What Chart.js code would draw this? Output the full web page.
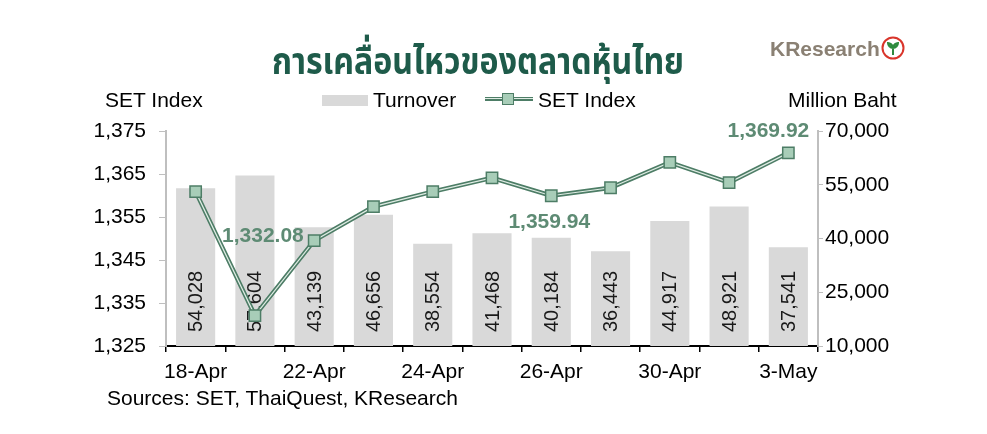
<!DOCTYPE html>
<html>
<head>
<meta charset="utf-8">
<script src="https://cdn.jsdelivr.net/npm/chart.js@4.4.1/dist/chart.umd.min.js"></script>
<style>
  body { margin: 0; background: #fff; }
  #wrap { position: relative; width: 987px; height: 434px; font-family: "Liberation Sans", Arial, sans-serif; }
  #c { position: absolute; left: 0; top: 0; }
  .t { position: absolute; white-space: nowrap; color: #000; font-size: 21px; line-height: 1; }
  #title { left: 178px; width: 600px; top: 44px; text-align: center; font-family: "Noto Sans Thai", "Noto Sans", "DejaVu Sans", sans-serif;
           font-weight: bold; font-size: 38px; color: #1e5b4a; transform: scaleX(0.845); transform-origin: 300px 0; }
  #logo { left: 770px; top: 38px; font-size: 21px; font-weight: bold; color: #8a8073; }
  #logoMark { position: absolute; left: 881px; top: 36px; }
  .swBar { position: absolute; left: 322px; top: 95px; width: 46px; height: 11px; background: #d9d9d9; }
  .swLine { position: absolute; left: 485px; top: 97px; width: 48px; height: 4px; background: #4d7d66; }
  .swLine2 { position: absolute; left: 485px; top: 98px; width: 48px; height: 1px; background: #dfece4; }
  .swMark { position: absolute; left: 502px; top: 93px; width: 10px; height: 10px; background: #a8cdb8; border: 1.5px solid #4d7d66; }
</style>
</head>
<body>
<div id="wrap">
  <canvas id="c" width="987" height="434"></canvas>
  <div class="t" id="title">การเคลื่อนไหวของตลาดหุ้นไทย</div>
  <div class="t" id="logo">KResearch</div>
  <svg id="logoMark" width="24" height="24" viewBox="0 0 24 24">
    <circle cx="12" cy="12" r="10.5" fill="#fff" stroke="#d9352b" stroke-width="2"/>
    <path d="M12 19 L12 12 M12 12 C9 12 7 9 7 7 C9 7 12 9 12 12 M12 12 C15 12 17 9 17 7 C15 7 12 9 12 12" stroke="#2f8a3e" stroke-width="2" fill="#3f9a4a"/>
  </svg>
  <div class="t" style="left:105px; top:89px;">SET Index</div>
  <div class="t" style="left:788px; top:89px;">Million Baht</div>
  <div class="swBar"></div>
  <div class="t" style="left:373px; top:89px;">Turnover</div>
  <div class="swLine"></div>
  <div class="swLine2"></div>
  <div class="swMark"></div>
  <div class="t" style="left:538px; top:89px;">SET Index</div>
  <div class="t" style="left:107px; top:387px;">Sources: SET, ThaiQuest, KResearch</div>
</div>
<script>
// data
const categories = ['18-Apr', '19-Apr', '22-Apr', '23-Apr', '24-Apr', '25-Apr', '26-Apr', '29-Apr', '30-Apr', '2-May', '3-May'];
const turnover = [54028, 57604, 43139, 46656, 38554, 41468, 40184, 36443, 44917, 48921, 37541];
const setIndex = [1360.9, 1332.08, 1349.5, 1357.4, 1360.9, 1364.1, 1359.94, 1361.8, 1367.7, 1363.0, 1369.92];
const labeledPoints = [1, 6, 10];
const leftTicks = [1325, 1335, 1345, 1355, 1365, 1375];
const rightTicks = [10000, 25000, 40000, 55000, 70000];

// where the value labels sit relative to their point
const labelOffsets = [[8, -79], [-2, 26], [-20, -22]];

const fontFam = '"Liberation Sans", Arial, sans-serif';

// vertical numbers inside the bars
const barLabels = {
  id: 'barLabels',
  afterDatasetDraw(chart, args) {
    if (args.index !== 0) return;
    const ctx = chart.ctx;
    const meta = chart.getDatasetMeta(0);
    ctx.save();
    ctx.font = '20px ' + fontFam;
    ctx.fillStyle = '#1a1a1a';
    ctx.textAlign = 'left';
    ctx.textBaseline = 'middle';
    meta.data.forEach(function (bar, i) {
      ctx.save();
      ctx.translate(bar.x, chart.chartArea.bottom - 14);
      ctx.rotate(-Math.PI / 2);
      ctx.fillText(turnover[i].toLocaleString('en-US'), 0, 1);
      ctx.restore();
    });
    ctx.restore();
  }
};

// green labels on a few SET Index points
const pointLabels = {
  id: 'pointLabels',
  afterDatasetsDraw(chart) {
    const ctx = chart.ctx;
    const meta = chart.getDatasetMeta(2);
    ctx.save();
    ctx.font = 'bold 21px ' + fontFam;
    ctx.fillStyle = '#5e8b74';
    ctx.textAlign = 'center';
    ctx.textBaseline = 'middle';
    labeledPoints.forEach(function (idx, k) {
      const p = meta.data[idx];
      const txt = setIndex[idx].toLocaleString('en-US', { minimumFractionDigits: 2 });
      ctx.fillText(txt, p.x + labelOffsets[k][0], p.y + labelOffsets[k][1]);
    });
    ctx.restore();
  }
};

new Chart(document.getElementById('c'), {
  data: {
    labels: categories,
    datasets: [{
      type: 'bar',
      label: 'Turnover',
      data: turnover,
      yAxisID: 'y2',
      backgroundColor: '#d9d9d9',
      barPercentage: 0.66,
      categoryPercentage: 1,
      order: 3
    }, {
      type: 'line',
      label: 'SET Index',
      data: setIndex,
      yAxisID: 'y',
      borderColor: '#4d7d66',
      borderWidth: 4.5,
      pointRadius: 0,
      tension: 0,
      order: 2
    }, {
      type: 'line',
      label: 'SET Index',
      data: setIndex,
      yAxisID: 'y',
      borderColor: '#dfece4',
      borderWidth: 1.2,
      pointStyle: 'rect',
      pointRadius: 8,
      pointBackgroundColor: '#a8cdb8',
      pointBorderColor: '#4d7d66',
      pointBorderWidth: 1.5,
      tension: 0,
      order: 1
    }]
  },
  options: {
    responsive: false,
    animation: false,
    devicePixelRatio: 1,
    layout: { padding: { top: 131, left: 0, right: 0, bottom: 0 } },
    plugins: { legend: { display: false }, tooltip: { enabled: false } },
    scales: {
      x: {
        offset: true,
        grid: { offset: true, drawOnChartArea: false, color: '#000', tickLength: 6, lineWidth: 1.5 },
        border: { color: '#000', width: 2 },
        ticks: {
          autoSkip: false, maxRotation: 0, padding: 8, color: '#000',
          font: { size: 21, family: fontFam },
          callback: function (v, i) { return i % 2 === 0 ? categories[i] : ''; }
        },
        afterFit: function (a) { a.height = 434 - 346; }
      },
      y: {
        position: 'left',
        min: leftTicks[0], max: leftTicks[leftTicks.length - 1],
        grid: { drawOnChartArea: false, color: '#bfbfbf', tickLength: 7 },
        border: { color: '#bfbfbf', width: 2 },
        ticks: {
          stepSize: 10, padding: 13, color: '#000',
          font: { size: 21, family: fontFam },
          callback: function (v) { return v.toLocaleString('en-US'); }
        },
        afterFit: function (a) { a.width = 166; }
      },
      y2: {
        position: 'right',
        min: rightTicks[0], max: rightTicks[rightTicks.length - 1],
        grid: { drawOnChartArea: false, color: '#bfbfbf', tickLength: 5 },
        border: { color: '#bfbfbf', width: 2 },
        ticks: {
          stepSize: 15000, padding: 2, color: '#000',
          font: { size: 21, family: fontFam },
          callback: function (v) { return v.toLocaleString('en-US'); }
        },
        afterFit: function (a) { a.width = 987 - 818; }
      }
    }
  },
  plugins: [barLabels, pointLabels]
});
</script>
</body>
</html>
